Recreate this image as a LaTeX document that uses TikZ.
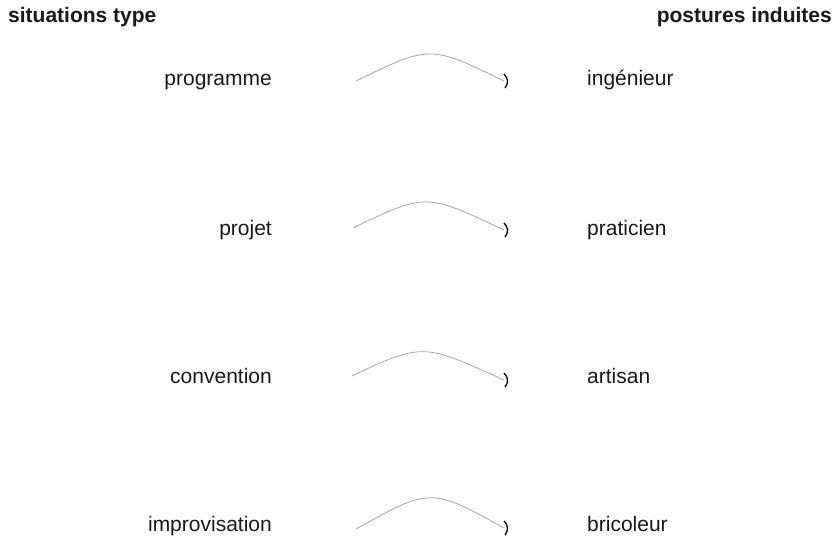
\documentclass[tikz,border=0pt]{standalone}
\usepackage{fontspec}
\setmainfont{Liberation Sans}
\begin{document}
\begin{tikzpicture}[x=1pt,y=-1pt,
  label/.style={inner sep=0pt,font=\fontsize{21}{25}\selectfont,text=black!90},
  header/.style={label,font=\fontsize{21}{25}\selectfont\bfseries},
  link/.style={draw=black!35,line width=0.8pt},
  bracket/.style={draw=black,line width=1.3pt}]
\useasboundingbox (0,0) rectangle (837,540);

% column headings
\node[header,anchor=base west] (hl) at (8,23) {situations type};
\node[header,anchor=base east] (hr) at (832,23) {postures induites};

% situations (left) and postures (right)
\node[label,anchor=base east] (s1) at (272,86) {programme};
\node[label,anchor=base east] (s2) at (272,235) {projet};
\node[label,anchor=base east] (s3) at (272,383) {convention};
\node[label,anchor=base east] (s4) at (272,531) {improvisation};

\node[label,anchor=base west] (p1) at (587,86) {ingénieur};
\node[label,anchor=base west] (p2) at (587,235) {praticien};
\node[label,anchor=base west] (p3) at (587,383) {artisan};
\node[label,anchor=base west] (p4) at (587,531) {bricoleur};

% arc end points
\coordinate (a1) at (356,81);  \coordinate (b1) at (504,81);
\coordinate (a2) at (353,228); \coordinate (b2) at (504,230);
\coordinate (a3) at (352,376); \coordinate (b3) at (504,380);
\coordinate (a4) at (356,529); \coordinate (b4) at (504,528);

% arched links (both control points near the crest), each closed by a ")" mark
\foreach \i/\dl/\dr/\h in {1/74/74/36, 2/74/77/36, 3/73/79/35, 4/74/74/41} {
  \draw[link] (a\i) .. controls +(\dl,-\h) and +(-\dr,-\h) .. (b\i);
  \draw[bracket] (b\i) ++(0,-7) .. controls +(4.5,4) and +(3.5,-4) .. ++(1,14);
}
\end{tikzpicture}
\end{document}
